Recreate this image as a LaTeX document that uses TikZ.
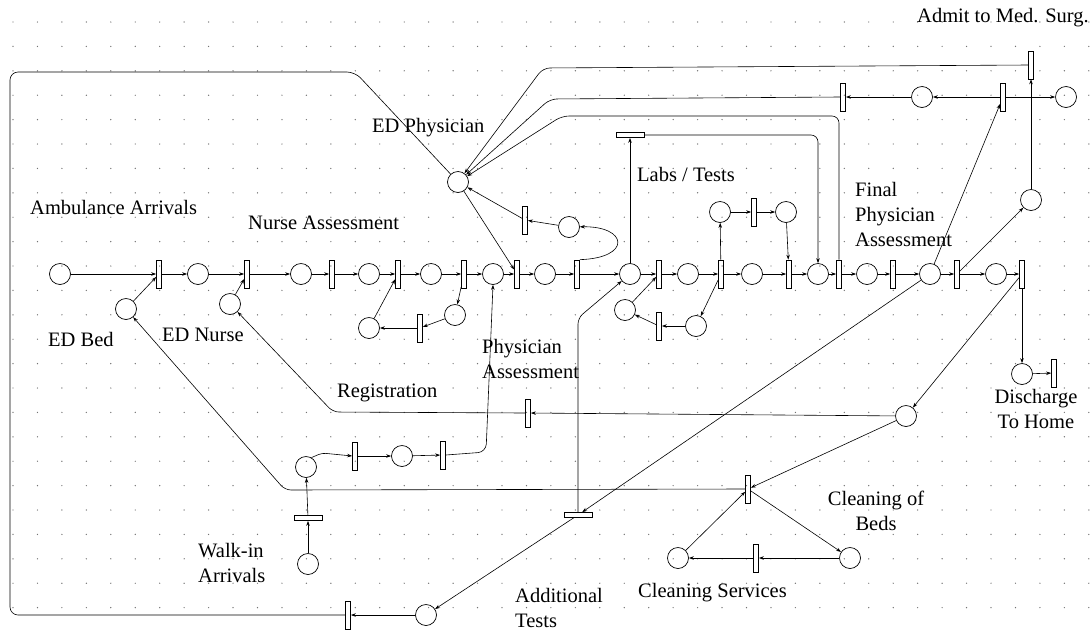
\documentclass[tikz,border=0pt]{standalone}
\usepackage{fontspec}
\setmainfont{Liberation Serif}
\usepackage{tikz}
\usetikzlibrary{arrows.meta, positioning}
\newcommand{\netfont}{\fontsize{20.5}{25}\selectfont}
\tikzset{
  place/.style={circle, draw=black, line width=0.7pt, minimum size=21pt, inner sep=0pt},
  trans/.style={rectangle, draw=black, line width=0.7pt, minimum width=5pt, minimum height=28pt, inner sep=0pt},
  htrans/.style={rectangle, draw=black, line width=0.7pt, minimum width=28pt, minimum height=5pt, inner sep=0pt},
  netlabel/.style={inner sep=0pt, font=\netfont},
  arcline/.style={line width=0.6pt, -{Stealth[length=5pt,width=3.5pt]}},
  plainline/.style={line width=0.6pt}
}
\begin{document}
\begin{tikzpicture}[x=1pt, y=-1pt]
\useasboundingbox (0,0) rectangle (1090,630);
% Dot grid
\foreach \i in {0,...,44}
  \foreach \j in {0,...,24}
    \fill[black!55] (13+24.45*\i, 22+24.4*\j) circle (0.7);

% Main patient flow
\foreach \n/\x in {p0/60, p1/198, p2/301, p3/369, p4/431, p5/493, p6/545, p7/630, p8/688, p9/752, p10/818, p11/867, p12/930, p13/996}
  \node[place] (\n) at (\x,274) {};
\foreach \n/\x in {t1/159, t2/247, t3/332, t4/398, t5/464, t6/517, t7/577, t8/659, t9/721, t10/789, t11/839, t12/893, t13/957, t14/1022}
  \node[trans] (\n) at (\x,274) {};
\foreach \a/\b in {p0/t1, t1/p1, p1/t2, t2/p2, p2/t3, t3/p3, p3/t4, t4/p4, p4/t5, t5/p5, p5/t6, t6/p6, p6/t7, t7/p7, p7/t8, t8/p8, p8/t9, t9/p9, p9/t10, t10/p10, p10/t11, t11/p11, p11/t12, t12/p12, p12/t13, t13/p13, p13/t14}
  \draw[arcline] (\a) -- (\b);

% Resources: bed, nurse, physician
\node[place] (bed) at (126,309) {};
\node[place] (nurse) at (230,304) {};
\node[place] (edphys) at (458,182) {};
\draw[arcline] (bed) -- (t1);
\draw[arcline] (nurse) -- (t2);

% Nurse assessment loop
\node[place] (lowa) at (369,328) {};
\node[trans] (tlow) at (420,328) {};
\node[place] (lowb) at (455,315) {};
\draw[arcline] (lowa) -- (t4);
\draw[arcline] (t5) -- (lowb);
\draw[arcline] (lowb) -- (tlow);
\draw[arcline] (tlow) -- (lowa);

% Physician assessment loop
\node[place] (nloop) at (569,227) {};
\node[trans] (tnloop) at (525,220) {};
\draw[arcline] (edphys) -- (t6);
\draw[arcline] (t7.north east) .. controls (632,258) and (628,226) .. (nloop);
\draw[arcline] (nloop) -- (tnloop);
\draw[arcline] (tnloop) -- (edphys);

% Labs / tests
\node[htrans] (labs) at (630,135) {};
\draw[arcline] (p7) -- (labs);
\draw[arcline, rounded corners=7] (labs) -| (p10);
\node[place] (upa) at (720,212) {};
\node[trans] (tup) at (754,212) {};
\node[place] (upb) at (786,212) {};
\draw[arcline] (t9) -- (upa);
\draw[arcline] (upa) -- (tup);
\draw[arcline] (tup) -- (upb);
\draw[arcline] (upb) -- (t10);
\node[place] (dna) at (625,310) {};
\node[trans] (tdn) at (659,326) {};
\node[place] (dnb) at (696,326) {};
\draw[arcline] (t9) -- (dnb);
\draw[arcline] (dnb) -- (tdn);
\draw[arcline] (tdn) -- (dna);
\draw[arcline] (dna) -- (t8);

% Final physician assessment and admission
\node[trans] (tfin) at (843,97) {};
\node[place] (pfin) at (922,97) {};
\node[trans] (tadm) at (1003,97) {};
\node[place] (padm) at (1066,97) {};
\node[trans] (tmed) at (1031,65) {};
\node[place] (pmed) at (1031,200) {};
\draw[arcline] (p12) -- (tadm);
\draw[arcline] (tadm) -- (pfin);
\draw[arcline] (tadm) -- (padm);
\draw[arcline] (pfin) -- (tfin);
\draw[arcline] (t13) -- (pmed);
\draw[arcline] (pmed) -- (tmed);
\draw[arcline, rounded corners=7] (tmed.west) -- (543,68) -- (edphys);
\draw[arcline, rounded corners=7] (tfin.west) -- (550,99) -- (edphys);
\draw[arcline, rounded corners=7] (t11.north) |- (562,116) -- (edphys);

% Discharge
\node[place] (pdis) at (1022,374) {};
\node[trans] (tdis) at (1054,373) {};
\draw[arcline] (t14) -- (pdis);
\draw[arcline] (pdis) -- (tdis);

% Bed release, registration and cleaning
\node[place] (pbed) at (906,416) {};
\node[trans] (treg) at (528,413) {};
\node[trans] (tclean) at (748,489) {};
\node[place] (pcs) at (678,558) {};
\node[trans] (tcs) at (756,558) {};
\node[place] (pcb) at (850,558) {};
\draw[arcline] (t14) -- (pbed);
\draw[arcline] (pbed) -- (treg);
\draw[arcline, rounded corners=6] (treg.west) -- (333,412) -- (nurse);
\draw[arcline] (pbed) -- (tclean);
\draw[arcline, rounded corners=6] (tclean.west) -- (285,490) -- (bed);
\draw[arcline] (pcs) -- (tclean);
\draw[arcline] (tclean) -- (pcb);
\draw[arcline] (pcb) -- (tcs);
\draw[arcline] (tcs) -- (pcs);

% Additional tests
\node[htrans] (tadd) at (578,515) {};
\node[place] (padd) at (426,615) {};
\node[trans] (tret) at (348,615) {};
\draw[arcline] (p12) -- (tadd);
\draw[arcline, rounded corners=6] (tadd.north) -- (578,318) -- (p7);
\draw[arcline] (tadd) -- (padd);
\draw[arcline] (padd) -- (tret);
\draw[plainline, rounded corners=8] (tret.west) -- (10,615) -- (10,72) -- (355,72) -- (edphys);

% Walk-in arrivals
\node[place] (walk) at (308,564) {};
\node[htrans] (twalk) at (308,518) {};
\node[place] (pw1) at (306,467) {};
\node[trans] (tw1) at (355,456) {};
\node[place] (pw2) at (402,456) {};
\node[trans] (tw2) at (443,455) {};
\draw[arcline] (walk) -- (twalk);
\draw[arcline] (twalk) -- (pw1);
\draw[arcline, rounded corners=4] (pw1.60) -- (322,453) -- (tw1.west);
\draw[arcline] (tw1) -- (pw2);
\draw[arcline] (pw2) -- (tw2);
\draw[arcline, rounded corners=8] (tw2.east) -- (486,452) -- (p5.south);

% Labels
\node[netlabel, anchor=west] (lbladmit) at (917,18) {Admit to Med. Surg.};
\node[netlabel, anchor=west] (lblphys) at (372,128) {ED Physician};
\node[netlabel, anchor=west] (lbllabs) at (637,174) {Labs / Tests};
\node[netlabel, anchor=west, align=left] (lblfinal) at (855,214) {Final\\Physician\\Assessment};
\node[netlabel, anchor=west] (lblamb) at (30,207) {Ambulance Arrivals};
\node[netlabel, anchor=west] (lblnurseas) at (248,223) {Nurse Assessment};
\node[netlabel, anchor=west] (lblbed) at (48,339) {ED Bed};
\node[netlabel, anchor=west] (lblnurse) at (162,335) {ED Nurse};
\node[netlabel, anchor=west] (lblreg) at (337,393) {Registration};
\node[netlabel, anchor=west, align=left] (lblphysas) at (482,359) {Physician\\Assessment};
\node[netlabel, anchor=west, align=left] (lblwalk) at (198,563) {Walk-in\\Arrivals};
\node[netlabel, align=center] (lbldis) at (1036,409) {Discharge\\To Home};
\node[netlabel, align=center] (lblclean) at (876,511) {Cleaning of\\Beds};
\node[netlabel, anchor=west] (lblcs) at (638,593) {Cleaning Services};
\node[netlabel, anchor=west, align=left] (lbladd) at (515,608) {Additional\\Tests};
\end{tikzpicture}
\end{document}
